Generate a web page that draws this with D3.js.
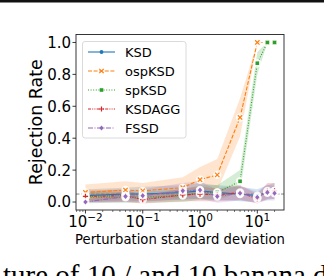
<!DOCTYPE html>
<html lang="en">
<head>
  <meta charset="UTF-8">
  <script src="https://cdn.jsdelivr.net/npm/d3@7"></script>
  <title>Rejection rate vs perturbation</title>
  <style>
    body { margin: 0; background: white; }
    svg { display: block; }
    text { font-family: 'DejaVu Sans', sans-serif; fill: black; }
    .tick_text { font-size: 15px; }
    .legend_text { font-size: 13px; }
  </style>
</head>
<body>
<div id="chart"></div>

<script>
  // data
  var sigmas = [0.01, 0.05, 0.1, 0.5, 1, 2, 5, 10, 15, 20];
  var methods = ["KSD", "ospKSD", "spKSD", "KSDAGG", "FSSD"];

  var ksd    = [0.04, 0.05, 0.05, 0.06, 0.07, 0.06, 0.05, 0.04, 0.06, 0.07];
  var ospksd = [0.06, 0.075, 0.07, 0.09, 0.14, 0.17, 0.53, 1.0, 1.0, 1.0];
  var spksd  = [0.03, 0.03, 0.03, 0.04, 0.06, 0.06, 0.13, 0.87, 1.0, 1.0];
  var ksdagg = [0.035, 0.04, 0.015, 0.045, 0.05, 0.045, 0.06, 0.02, 0.07, 0.07];
  var fssd   = [0.0, 0.035, 0.04, 0.07, 0.075, 0.035, 0.055, 0.03, 0.06, 0.055];

  // half widths of the shaded bands
  var ksdErr    = [0.04, 0.04, 0.045, 0.045, 0.05, 0.045, 0.045, 0.04, 0.045, 0.05];
  var ospksdErr = [0.05, 0.055, 0.05, 0.065, 0.08, 0.1, 0.12, 0.0, 0.0, 0.0];
  var spksdErr  = [0.035, 0.035, 0.035, 0.04, 0.045, 0.045, 0.07, 0.07, 0.0, 0.0];
  var ksdaggErr = [0.035, 0.04, 0.025, 0.04, 0.045, 0.04, 0.045, 0.03, 0.05, 0.05];
  var fssdErr   = [0.01, 0.035, 0.04, 0.05, 0.055, 0.04, 0.045, 0.035, 0.05, 0.045];

  var yTicks = [0.0, 0.2, 0.4, 0.6, 0.8, 1.0];
  var xTicks = [-2, -1, 0, 1];
  var alphaLevel = 0.05;

  var colors = ["#1f77b4", "#ff7f0e", "#2ca02c", "#d62728", "#9467bd"];
  var dashes = [null, "4,1.6", "1,1.6", "3,1.2,1,1.2,1,1.2", "5,1.5,1,1.5"];
  var shapes = ["circle", "x", "square", "plus", "diamond"];

  var series = methods.map(function(m, i) {
    var vals = [ksd, ospksd, spksd, ksdagg, fssd][i];
    var errs = [ksdErr, ospksdErr, spksdErr, ksdaggErr, fssdErr][i];
    return {
      name: m,
      color: colors[i],
      dash: dashes[i],
      shape: shapes[i],
      points: sigmas.map(function(s, j) { return { x: s, y: vals[j], e: errs[j] }; })
    };
  });

  var W = 324, H = 276;
  var pLeft = 76, pRight = 284, pTop = 34.5, pBottom = 210;

  var svg = d3.select("#chart").append("svg")
    .attr("width", W)
    .attr("height", H);

  // bit of the page above and below the figure
  svg.append("rect").attr("x", 0).attr("y", 0).attr("width", W).attr("height", 2.5).style("fill", "#111");
  svg.append("text")
    .attr("x", 3)
    .attr("y", 285)
    .style("font-family", "'Liberation Serif', serif")
    .style("font-size", "29px")
    .text("ture of 10 / and 10 banana d");

  // matplotlib-like 5% margins in log space
  var lx0 = Math.log10(d3.min(sigmas)), lx1 = Math.log10(d3.max(sigmas));
  var pad = (lx1 - lx0) * 0.05;
  var xScale = d3.scaleLog()
    .domain([Math.pow(10, lx0 - pad), Math.pow(10, lx1 + pad)])
    .range([pLeft, pRight]);

  var yScale = d3.scaleLinear()
    .domain([-0.05, 1.05])
    .range([pBottom, pTop]);

  svg.append("clipPath").attr("id", "clip")
    .append("rect").attr("x", pLeft).attr("y", pTop).attr("width", pRight - pLeft).attr("height", pBottom - pTop);
  var plot = svg.append("g").attr("clip-path", "url(#clip)");

  // bands
  var area = d3.area()
    .x(function(d) { return xScale(d.x); })
    .y0(function(d) { return yScale(d.y - d.e); })
    .y1(function(d) { return yScale(d.y + d.e); });

  series.forEach(function(s) {
    plot.append("path")
      .attr("d", area(s.points))
      .style("fill", s.color)
      .style("opacity", 0.2)
      .style("stroke", "none");
  });

  // alpha line
  plot.append("line")
    .attr("x1", pLeft).attr("x2", pRight)
    .attr("y1", yScale(alphaLevel)).attr("y2", yScale(alphaLevel))
    .style("stroke", "#888")
    .style("stroke-width", 1)
    .style("stroke-dasharray", "3.5,1.5");

  var line = d3.line()
    .x(function(d) { return xScale(d.x); })
    .y(function(d) { return yScale(d.y); });

  function drawMarker(g, shape, color, cx, cy, halo) {
    if (halo) {
      g.append("circle").attr("cx", cx).attr("cy", cy).attr("r", 4.2)
        .style("fill", "white").style("opacity", 0.85);
    }
    var r = 2.2;
    if (shape == "circle") {
      g.append("circle").attr("cx", cx).attr("cy", cy).attr("r", 1.9).style("fill", color);
    } else if (shape == "square") {
      g.append("rect").attr("x", cx - 1.8).attr("y", cy - 1.8).attr("width", 3.6).attr("height", 3.6).style("fill", color);
    } else if (shape == "diamond") {
      g.append("path").attr("d", "M" + cx + "," + (cy - 2.6) + "L" + (cx + 2.2) + "," + cy + "L" + cx + "," + (cy + 2.6) + "L" + (cx - 2.2) + "," + cy + "Z")
        .style("fill", color);
    } else if (shape == "x") {
      g.append("path").attr("d", "M" + (cx - r) + "," + (cy - r) + "L" + (cx + r) + "," + (cy + r) + "M" + (cx - r) + "," + (cy + r) + "L" + (cx + r) + "," + (cy - r))
        .style("stroke", color).style("stroke-width", 1.2).style("fill", "none");
    } else if (shape == "plus") {
      g.append("path").attr("d", "M" + (cx - 2.6) + "," + cy + "L" + (cx + 2.6) + "," + cy + "M" + cx + "," + (cy - 2.6) + "L" + cx + "," + (cy + 2.6))
        .style("stroke", color).style("stroke-width", 1.2).style("fill", "none");
    }
  }

  series.forEach(function(s) {
    plot.append("path")
      .attr("d", line(s.points))
      .style("fill", "none")
      .style("stroke", s.color)
      .style("stroke-width", 1.1)
      .style("stroke-dasharray", s.dash);
    s.points.forEach(function(p) {
      drawMarker(plot, s.shape, s.color, xScale(p.x), yScale(p.y), true);
    });
  });

  // frame
  svg.append("rect")
    .attr("x", pLeft).attr("y", pTop)
    .attr("width", pRight - pLeft).attr("height", pBottom - pTop)
    .style("fill", "none")
    .style("stroke", "#222")
    .style("stroke-width", 0.9);

  // y ticks
  var yAxis = svg.append("g");
  yTicks.forEach(function(t) {
    var y = yScale(t);
    yAxis.append("line").attr("x1", pLeft - 3.5).attr("x2", pLeft).attr("y1", y).attr("y2", y)
      .style("stroke", "#222").style("stroke-width", 0.9);
    yAxis.append("text")
      .attr("class", "tick_text")
      .attr("x", pLeft - 5)
      .attr("y", y)
      .attr("dy", "0.36em")
      .style("text-anchor", "end")
      .text(t.toFixed(1));
  });

  // x ticks (major + log minor)
  var xAxis = svg.append("g");
  xScale.ticks(30).forEach(function(t) {
    var lg = Math.log10(t);
    var major = Math.abs(lg - Math.round(lg)) < 1e-9;
    var x = xScale(t);
    xAxis.append("line").attr("x1", x).attr("x2", x).attr("y1", pBottom).attr("y2", pBottom + (major ? 3.5 : 2))
      .style("stroke", "#222").style("stroke-width", major ? 0.9 : 0.6);
  });
  xTicks.forEach(function(k) {
    var lab = xAxis.append("text")
      .attr("class", "tick_text")
      .attr("x", xScale(Math.pow(10, k)))
      .attr("y", 226.5)
      .style("text-anchor", "middle");
    lab.append("tspan").text("10");
    lab.append("tspan").attr("dy", -6).style("font-size", "10.5px").text(k < 0 ? "\u2212" + (-k) : String(k));
  });

  // axis labels
  svg.append("text")
    .attr("x", (pLeft + pRight) / 2)
    .attr("y", 243.5)
    .style("text-anchor", "middle")
    .style("font-size", "13.2px")
    .text("Perturbation standard deviation");

  svg.append("text")
    .attr("transform", "translate(41.5," + ((pTop + pBottom) / 2) + ") rotate(-90)")
    .style("text-anchor", "middle")
    .style("font-size", "17.4px")
    .text("Rejection Rate");

  // legend
  var legend = svg.append("g");
  legend.append("rect")
    .attr("x", 82.5).attr("y", 41.5)
    .attr("width", 103.5).attr("height", 96.5)
    .attr("rx", 2.5)
    .style("fill", "white").style("fill-opacity", 0.8)
    .style("stroke", "#d6d6d6").style("stroke-width", 0.9);

  series.forEach(function(s, i) {
    var y = 52 + i * 19;
    legend.append("line")
      .attr("x1", 88).attr("x2", 115).attr("y1", y).attr("y2", y)
      .style("stroke", s.color).style("stroke-width", 1.1)
      .style("stroke-dasharray", s.dash);
    drawMarker(legend, s.shape, s.color, 101.5, y, false);
    legend.append("text")
      .attr("class", "legend_text")
      .attr("x", 125)
      .attr("y", y)
      .attr("dy", "0.36em")
      .text(s.name);
  });
</script>
</body>
</html>
